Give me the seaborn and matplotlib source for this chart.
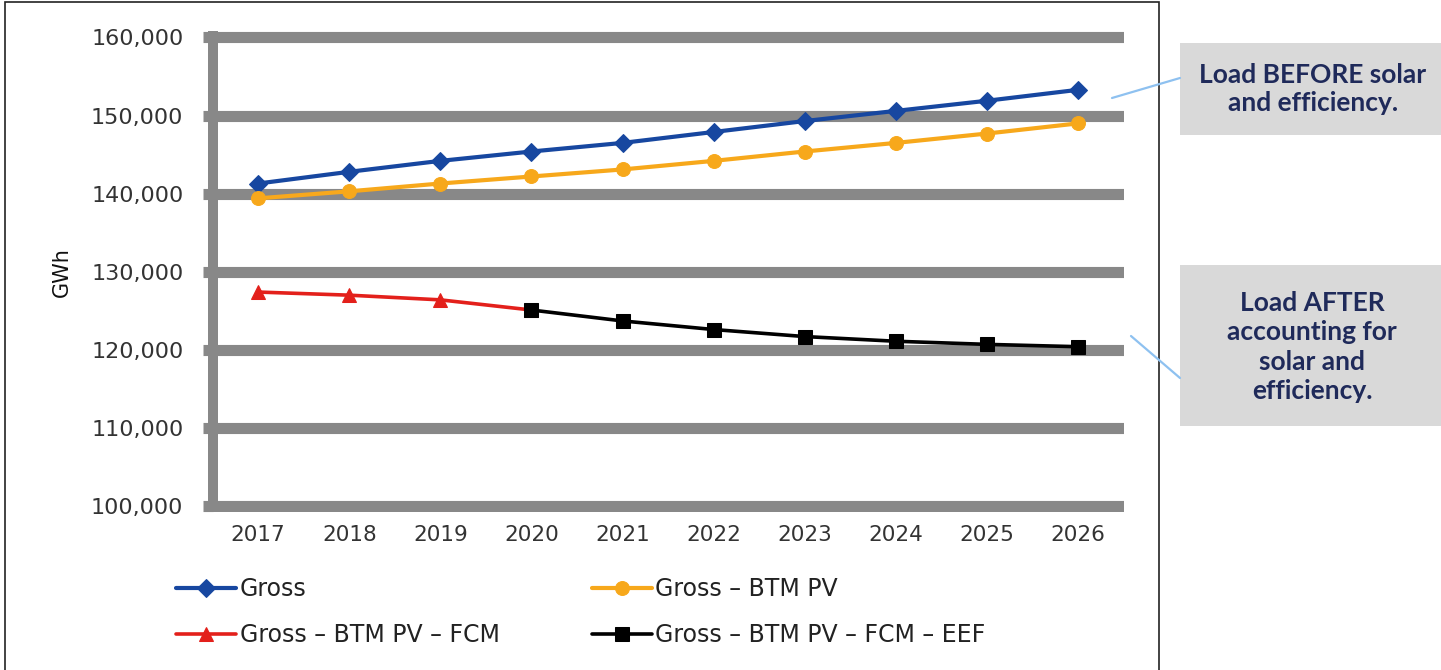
import numpy as np
import pandas as pd
import matplotlib
matplotlib.use("Agg")
import matplotlib.pyplot as plt
import seaborn as sns
from matplotlib.ticker import StrMethodFormatter
from matplotlib.lines import Line2D
from matplotlib.patches import Rectangle

# values (GWh)
years = [2017, 2018, 2019, 2020, 2021, 2022, 2023, 2024, 2025, 2026]
gross = [141300, 142800, 144200, 145400, 146500, 147900, 149300, 150600, 151900, 153300]
gross_btm = [139400, 140300, 141300, 142200, 143100, 144200, 145400, 146500, 147700, 149000]
fcm_years = [2017, 2018, 2019, 2020]
gross_btm_fcm = [127400, 127000, 126400, 125100]
eef_years = [2020, 2021, 2022, 2023, 2024, 2025, 2026]
gross_btm_fcm_eef = [125100, 123700, 122600, 121700, 121100, 120700, 120400]

labels = ["Gross", "Gross \u2013 BTM PV", "Gross \u2013 BTM PV \u2013 FCM",
          "Gross \u2013 BTM PV \u2013 FCM \u2013 EEF"]
colors = ["#1747A0", "#F7A81B", "#E3201B", "#000000"]

callout_top = "Load BEFORE solar\nand efficiency."
callout_bottom = "Load AFTER\naccounting for\nsolar and\nefficiency."

sns.set_style("white")
plt.rcParams['font.family'] = ['DejaVu Sans']

W, H = 1441, 670
fig = plt.figure(figsize=(W / 100, H / 100), dpi=100)

def fx(px):
    return px / W

def fy(py):
    return 1 - py / H

# axes placed so that 160,000 sits at y=37.5px and 100,000 at y=506px
top_px, bot_px = 31.25, 512.25
ax = fig.add_axes([fx(212.6), fy(bot_px), fx(911), (bot_px - top_px) / H])

grid_col = "#888888"
ax.set_axisbelow(True)
ax.yaxis.grid(True, color=grid_col, linewidth=8)
ax.xaxis.grid(False)

sns.lineplot(x=years, y=gross, ax=ax, color=colors[0], marker="D", markersize=9,
             markeredgecolor=colors[0], linewidth=3, label=labels[0])
sns.lineplot(x=fcm_years, y=gross_btm_fcm, ax=ax, color=colors[2], marker="^", markersize=10,
             markeredgecolor=colors[2], linewidth=2.6, label=labels[2])
sns.lineplot(x=years, y=gross_btm, ax=ax, color=colors[1], marker="o", markersize=10,
             markeredgecolor=colors[1], linewidth=3, label=labels[1])
sns.lineplot(x=eef_years, y=gross_btm_fcm_eef, ax=ax, color=colors[3], marker="s", markersize=10,
             markeredgecolor=colors[3], linewidth=2.6, label=labels[3])

ax.set_xlim(2016.5, 2026.5)
ax.set_ylim(99200, 160800)
ax.set_xticks(years)
ax.set_yticks(np.arange(100000, 160001, 10000))
ax.yaxis.set_major_formatter(StrMethodFormatter("{x:,.0f}"))

for side in ["top", "right", "bottom"]:
    ax.spines[side].set_visible(False)
ax.spines["left"].set_color(grid_col)
ax.spines["left"].set_linewidth(7.2)
ax.spines["left"].set_capstyle("butt")

ax.tick_params(axis="y", which="major", length=7, width=8, color=grid_col, direction="out",
               pad=14, labelsize=16, labelcolor="#333333", left=True)
ax.tick_params(axis="x", length=0, pad=9, labelsize=15.5, labelcolor="#333333")

ax.set_xlabel("")
ax.set_ylabel("GWh", fontsize=15, color="#111111")
ax.yaxis.set_label_coords((72 - 212.6) / 911, 0.5)

leg = ax.legend(ncol=2, frameon=False, loc="upper left", bbox_to_anchor=(fx(176), fy(577)),
                bbox_transform=fig.transFigure, fontsize=17, handlelength=2.55, handletextpad=0.15,
                columnspacing=3.9, labelspacing=0.95, borderpad=0, borderaxespad=0)
for t in leg.get_texts():
    t.set_color("#222222")

# chart frame
fig.add_artist(Rectangle((fx(5), fy(672)), fx(1154), (672 - 2) / H, transform=fig.transFigure,
                         fill=False, edgecolor="#222222", linewidth=1.2))

# callout boxes with connector lines
navy = "#1F2A5A"
fig.add_artist(Rectangle((fx(1180), fy(135)), fx(261), 92 / H, transform=fig.transFigure,
                         facecolor="#D9D9D9", edgecolor="none"))
fig.text(fx(1313), fy(89), callout_top, ha="center", va="center", fontsize=19,
         fontweight="bold", color=navy, family=["Lato", "DejaVu Sans"], linespacing=1.2)
fig.add_artist(Rectangle((fx(1180), fy(426)), fx(261), 161 / H, transform=fig.transFigure,
                         facecolor="#D9D9D9", edgecolor="none"))
fig.text(fx(1312), fy(347), callout_bottom, ha="center", va="center", fontsize=19,
         fontweight="bold", color=navy, family=["Lato", "DejaVu Sans"], linespacing=1.28)

link_col = "#8EC1F0"
fig.add_artist(Line2D([fx(1112), fx(1180)], [fy(98), fy(78)], transform=fig.transFigure,
                      color=link_col, linewidth=1.6))
fig.add_artist(Line2D([fx(1131), fx(1180)], [fy(336), fy(378)], transform=fig.transFigure,
                      color=link_col, linewidth=1.6))

fig.savefig("out.png", dpi=100)
